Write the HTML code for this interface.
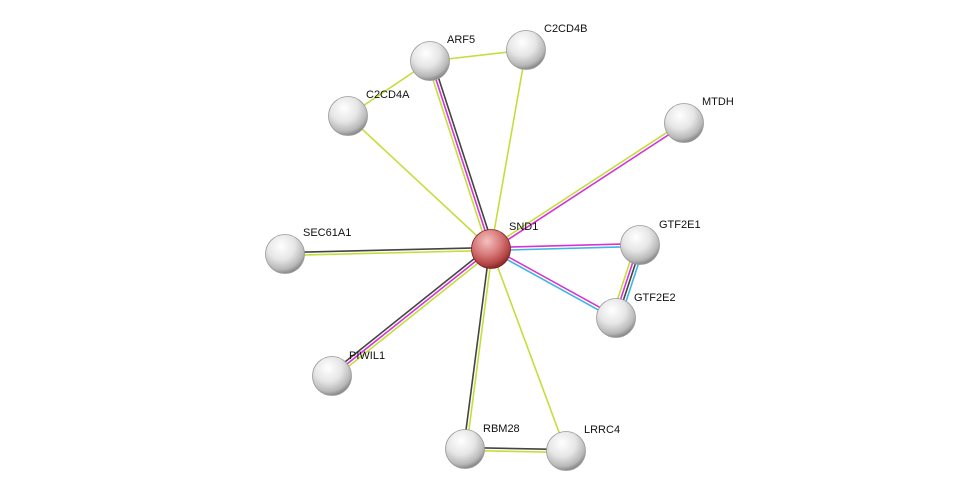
<!DOCTYPE html>
<html><head><meta charset="utf-8"><style>
body{margin:0;background:#fff;width:976px;height:496px;overflow:hidden}
svg text{font-family:"Liberation Sans",sans-serif;font-size:11px;fill:#111}
</style></head><body>
<svg id="s" width="976" height="496" xmlns="http://www.w3.org/2000/svg">
<defs>
<radialGradient id="g" cx="40%" cy="30%" r="70%">
<stop offset="0" stop-color="#ffffff"/><stop offset="0.5" stop-color="#e6e6e6"/><stop offset="0.85" stop-color="#b8b8b8"/><stop offset="1" stop-color="#8a8a8a"/></radialGradient>
<radialGradient id="r" cx="40%" cy="30%" r="70%">
<stop offset="0" stop-color="#f4c0c0"/><stop offset="0.5" stop-color="#d87a7a"/><stop offset="0.85" stop-color="#b44444"/><stop offset="1" stop-color="#8a2a2a"/></radialGradient>
</defs>
<g id="e"></g><g id="n"></g>
</svg>
<script>
var N={SND1:[491,249],ARF5:[430,61],C2CD4B:[526,50],C2CD4A:[348,116],MTDH:[684,123],SEC61A1:[285,254],GTF2E1:[640,245],GTF2E2:[616,318],PIWIL1:[332,376],RBM28:[465,449],LRRC4:[566,451]};
var Y="#c5de3c",K="#444",M="#d633d6",C="#3fb6e4";
var E=[["SND1","ARF5",[K,M,Y]],["SND1","C2CD4B",[Y]],["SND1","C2CD4A",[Y]],["ARF5","C2CD4A",[Y]],["ARF5","C2CD4B",[Y]],["SND1","MTDH",[M,Y]],["SND1","SEC61A1",[K,Y]],["SND1","GTF2E1",[C,M]],["SND1","GTF2E2",[C,M]],["GTF2E1","GTF2E2",[Y,M,K,C]],["SND1","PIWIL1",[K,M,Y]],["SND1","RBM28",[K,Y]],["SND1","LRRC4",[Y]],["RBM28","LRRC4",[Y,K]]];
var h="";
E.forEach(function(e){var a=N[e[0]],b=N[e[1]],dx=b[0]-a[0],dy=b[1]-a[1],L=Math.hypot(dx,dy),px=-dy/L,py=dx/L,n=e[2].length;
e[2].forEach(function(c,i){var o=-(i-(n-1)/2)*2.9;h+='<line x1="'+(a[0]+px*o)+'" y1="'+(a[1]+py*o)+'" x2="'+(b[0]+px*o)+'" y2="'+(b[1]+py*o)+'" stroke="'+c+'" stroke-width="1.6"/>';});});
document.getElementById("e").innerHTML=h;
var L={SND1:[18,-20],ARF5:[17,-19],C2CD4B:[18,-19],C2CD4A:[18,-19],MTDH:[18,-19],SEC61A1:[18,-19],GTF2E1:[19,-18],GTF2E2:[18,-18],PIWIL1:[17,-18],RBM28:[18,-18],LRRC4:[18,-19]};
var t="";
for(var k in N){var p=N[k];t+='<circle cx="'+p[0]+'" cy="'+p[1]+'" r="19.5" fill="url(#'+(k=="SND1"?"r":"g")+')" stroke="'+(k=="SND1"?"#7a2020":"#999")+'" stroke-width="0.8"/>';
t+='<text x="'+(p[0]+L[k][0])+'" y="'+(p[1]+L[k][1]+1)+'">'+k+'</text>';}
document.getElementById("n").innerHTML=t;
</script>
</body></html>
